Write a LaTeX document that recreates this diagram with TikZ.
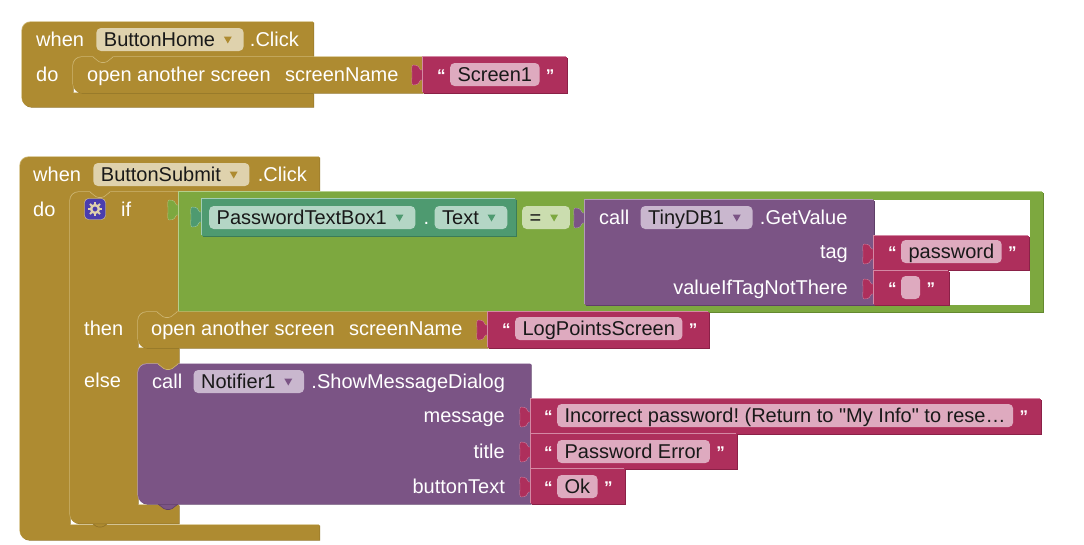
\documentclass[tikz,border=0pt]{standalone}
\usepackage{fontspec}
\newfontfamily\blockfont{Liberation Sans}
\usetikzlibrary{positioning}
\definecolor{ctrl}{HTML}{AE8B31}
\definecolor{ctrlhi}{HTML}{CDB673}
\definecolor{ctrllo}{HTML}{8C7027}
\definecolor{ctrlfield}{HTML}{DFD2AD}
\definecolor{logic}{HTML}{7DA83F}
\definecolor{logichi}{HTML}{B5CF8C}
\definecolor{logiclo}{HTML}{64892F}
\definecolor{logicfield}{HTML}{CBDDAF}
\definecolor{tbox}{HTML}{4E9A70}
\definecolor{tboxhi}{HTML}{A2CDB6}
\definecolor{tboxlo}{HTML}{3B7C58}
\definecolor{tboxfield}{HTML}{B4D6C5}
\definecolor{proc}{HTML}{7B5485}
\definecolor{prochi}{HTML}{B39AB9}
\definecolor{proclo}{HTML}{5F3F68}
\definecolor{procfield}{HTML}{C9B7CE}
\definecolor{str}{HTML}{AE2F5C}
\definecolor{strhi}{HTML}{D488A4}
\definecolor{strlo}{HTML}{8A2147}
\definecolor{strfield}{HTML}{DEAABF}
\definecolor{gearblue}{HTML}{4A3DAE}
\tikzset{x=1pt,y=-1pt,
    every node/.style={font=\blockfont\frenchspacing\fontsize{20}{24}\selectfont},
    word/.style={text=white,inner sep=0pt,anchor=base west},
    wordr/.style={text=white,inner sep=0pt,anchor=base east},
    field/.style={fill=#1,rounded corners=4.5pt,text=black!90,inner xsep=7.5pt,inner ysep=2pt,
        text height=16pt,text depth=3pt,anchor=base west},
    dropfield/.style={field=#1,execute at end node={\hspace{21pt}}},
    quotes/.style={text=white,inner sep=0pt,anchor=base west,font=\blockfont\fontsize{17}{20}\bfseries},
    plug/.pic={\path[pic actions] (1,13) -- (-2.5,13) .. controls (-3.5,10) and (-5,8) .. (-10,8)
        .. controls (-12,9) and (-11,13) .. (-11,18)
        .. controls (-11,23) and (-12,27) .. (-10,28)
        .. controls (-5,28) and (-3.5,26) .. (-2.5,23) -- (1,23) -- cycle;},
    notch/.pic={\fill[pic actions,draw=none,rounded corners=1.5pt] (0,-1) -- (0,0) -- (7,5.5) -- (13,5.5) -- (20,0) -- (20,-1) -- cycle;
        \draw[pic actions,fill=none,rounded corners=1.5pt] (0,0) -- (7,5.5) -- (13,5.5) -- (20,0);}
}
% each block: dark edge, light edge, then the block itself
\newcommand{\puzzle}[2]{\fill[#1lo,shift={(.6,.6)}] #2; \fill[#1hi,shift={(-.6,-.6)}] #2; \fill[#1] #2;}
\newcommand{\dropmark}[2]{\fill[#2] ([xshift=-20pt,yshift=3pt]#1.east) -- ++(8,0) -- ++(-4,7) -- cycle;}
\newcommand{\strblock}[4]{\pic[fill=str,draw=strhi,line width=.3pt] at (#1,#2) {plug}; \puzzle{str}{(#1,#2) rectangle (#3,#4)}}

\begin{document}
\begin{tikzpicture}
    \fill[white] (0,0) rectangle (1084,544);

    % upper event block
    \puzzle{ctrl}{(100,22) [rounded corners=9pt] -- (22,22) -- (22,107) [sharp corners] -- (313.5,107) -- (313.5,93) -- (73,93) -- (73,57) -- (313.5,57) -- (313.5,22) -- cycle}
    \fill[ctrl] (73,57) rectangle (83,67);
    \puzzle{ctrl}{(423,57) [rounded corners=9pt] -- (73,57) -- (73,93) [sharp corners] -- (423,93) -- cycle}
    \pic[fill=ctrl,draw=ctrlhi,line width=.6pt] at (93,57) {notch};
    \strblock{423}{57}{567}{93}

    \node[word] (when1) at (36,46) {when};
    \node[dropfield=ctrlfield,base right=12pt of when1] (home) {ButtonHome};
    \dropmark{home}{ctrl}
    \node[word,base right=6pt of home] (click1) {.Click};
    \node[word] (do1) at (36,81) {do};
    \node[word] (open1) at (87,81) {open another screen};
    \node[word,base right=14pt of open1] (scr1) {screenName};
    \node[quotes] (ql1) at (437,81) {“};
    \node[field=strfield,base right=4pt of ql1] (screen) {Screen1};
    \node[quotes,base right=6pt of screen] (qr1) {”};

    % lower event block
    \puzzle{ctrl}{(100,157) [rounded corners=9pt] -- (20,157) -- (20,540) [sharp corners] -- (319.5,540) -- (319.5,525) -- (70,525) -- (70,192) -- (319.5,192) -- (319.5,157) -- cycle}
    \fill[ctrl] (70,192) rectangle (80,202);
    \pic[fill=ctrl,draw=ctrllo,line width=.6pt] at (90,521.5) {notch};
    \puzzle{ctrl}{(179,192) [rounded corners=9pt] -- (70,192) -- (70,523.5) [sharp corners] -- (179,523.5) -- (179,505) -- (138,505) -- (138,364) -- (179,364) -- (179,348) -- (138,348) -- (138,312) -- (179,312) -- cycle}
    \pic[fill=ctrl,draw=ctrlhi,line width=.6pt] at (90,192) {notch};

    % condition of the if
    \pic[fill=logic,draw=logichi,line width=.3pt] at (179,192) {plug};
    \puzzle{logic}{(179,192) rectangle (1043,312)}
    \fill[white] (874,200) rectangle (1030,305);
    \pic[fill=tbox,draw=tboxhi,line width=.3pt] at (202,199) {plug};
    \puzzle{tbox}{(202,199) rectangle (516,236)}
    \pic[fill=proc,draw=prochi,line width=.3pt] at (585,200) {plug};
    \puzzle{proc}{(585,200) rectangle (874,305)}
    \strblock{874}{236}{1029}{270}
    \strblock{874}{271}{949}{305}

    % then and else
    \fill[ctrl] (138,312) rectangle (148,322);
    \puzzle{ctrl}{(488,312) [rounded corners=9pt] -- (138,312) -- (138,348) [sharp corners] -- (488,348) -- cycle}
    \pic[fill=ctrl,draw=ctrlhi,line width=.6pt] at (157,312) {notch};
    \strblock{488}{312}{709}{348}
    \fill[ctrl] (138,364) rectangle (148,374);
    \pic[fill=proc,draw=proclo,line width=.6pt] at (158,504) {notch};
    \puzzle{proc}{(531,364) [rounded corners=9pt] -- (138,364) -- (138,504) [sharp corners] -- (531,504) -- cycle}
    \pic[fill=ctrl,draw=ctrlhi,line width=.6pt] at (158,364) {notch};
    \strblock{531}{399}{1041}{434}
    \strblock{531}{434}{737}{469}
    \strblock{531}{469}{625}{504}

    \node[word] (when2) at (33,181) {when};
    \node[dropfield=ctrlfield,base right=12pt of when2] (submit) {ButtonSubmit};
    \dropmark{submit}{ctrl}
    \node[word,base right=8pt of submit] (click2) {.Click};
    \node[word] (do2) at (33,216) {do};
    \node[fill=gearblue,draw=ctrlfield,rounded corners=4pt,minimum size=21pt,inner sep=0pt] (gear) at (95,209) {};
    \draw[ctrlfield,line width=2.4pt] (gear.center) circle (3.9);
    \foreach \a in {0,45,...,315}
        \draw[ctrlfield,line width=2pt] (gear.center) ++(\a:4.5) -- ++(\a:2.6);
    \node[word] (if) at (121,216) {if};

    \node[dropfield=tboxfield,anchor=base west] (pwbox) at (209,224) {PasswordTextBox1};
    \dropmark{pwbox}{tbox}
    \node[word,base right=8pt of pwbox] (dot) {.};
    \node[dropfield=tboxfield,base right=5pt of dot] (pwtext) {Text};
    \dropmark{pwtext}{tbox}
    \node[dropfield=logicfield,anchor=base west] (eq) at (522,224) {=};
    \dropmark{eq}{logic}

    \node[word] (call1) at (599,224) {call};
    \node[dropfield=procfield,base right=11pt of call1] (tinydb) {TinyDB1};
    \dropmark{tinydb}{proc}
    \node[word,base right=7pt of tinydb] (getval) {.GetValue};
    \node[wordr] (tag) at (848,258) {tag};
    \node[wordr] (vitnt) at (848,294) {valueIfTagNotThere};
    \node[quotes] (ql2) at (888,258) {“};
    \node[field=strfield,base right=4pt of ql2] (pw) {password};
    \node[quotes,base right=6pt of pw] (qr2) {”};
    \node[quotes] (ql3) at (888,294) {“};
    \node[field=strfield,minimum width=19pt,base right=4pt of ql3] (empty) {};
    \node[quotes,base right=6pt of empty] (qr3) {”};

    \node[word] (then) at (84,335) {then};
    \node[word] (open2) at (151,335) {open another screen};
    \node[word,base right=14pt of open2] (scr2) {screenName};
    \node[quotes] (ql4) at (502,335) {“};
    \node[field=strfield,base right=4pt of ql4] (logpts) {LogPointsScreen};
    \node[quotes,base right=6pt of logpts] (qr4) {”};

    \node[word] (else) at (84,387) {else};
    \node[word] (call2) at (152,388) {call};
    \node[dropfield=procfield,base right=11pt of call2] (notif) {Notifier1};
    \dropmark{notif}{proc}
    \node[word,base right=7pt of notif] (show) {.ShowMessageDialog};
    \node[wordr] (msg) at (505,422) {message};
    \node[wordr] (title) at (505,458) {title};
    \node[wordr] (btn) at (505,493) {buttonText};
    \node[quotes] (ql5) at (544,422) {“};
    \node[field=strfield,base right=4pt of ql5] (incorrect) {Incorrect password! (Return to "My Info" to rese…};
    \node[quotes,base right=6pt of incorrect] (qr5) {”};
    \node[quotes] (ql6) at (544,458) {“};
    \node[field=strfield,base right=4pt of ql6] (perr) {Password Error};
    \node[quotes,base right=6pt of perr] (qr6) {”};
    \node[quotes] (ql7) at (544,493) {“};
    \node[field=strfield,base right=4pt of ql7] (ok) {Ok};
    \node[quotes,base right=6pt of ok] (qr7) {”};
\end{tikzpicture}
\end{document}
